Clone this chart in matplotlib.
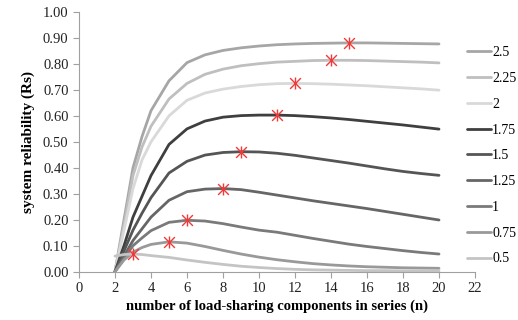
import numpy as np
import matplotlib
matplotlib.use('Agg')
import matplotlib.pyplot as plt

# number of components in series (n)
n = [2, 2.5, 3, 3.5, 4, 5, 6, 7, 8, 9, 10, 11, 12, 13, 14, 15, 16, 17, 18, 19, 20]

# system reliability for each load level
r_25 = [0.0, 0.20, 0.40, 0.52, 0.62, 0.735, 0.805, 0.835, 0.852, 0.862, 0.869, 0.874,
        0.877, 0.879, 0.880, 0.881, 0.881, 0.880, 0.879, 0.878, 0.877]
r_225 = [0.0, 0.18, 0.37, 0.48, 0.56, 0.665, 0.725, 0.76, 0.78, 0.793, 0.801, 0.807,
         0.810, 0.813, 0.814, 0.814, 0.813, 0.811, 0.809, 0.807, 0.804]
r_2 = [0.0, 0.16, 0.32, 0.43, 0.50, 0.60, 0.66, 0.688, 0.703, 0.713, 0.720, 0.724,
       0.725, 0.724, 0.722, 0.719, 0.716, 0.712, 0.708, 0.704, 0.699]
r_175 = [0.0, 0.10, 0.21, 0.29, 0.37, 0.49, 0.55, 0.58, 0.595, 0.601, 0.603, 0.603,
         0.601, 0.597, 0.592, 0.586, 0.579, 0.572, 0.565, 0.557, 0.549]
r_15 = [0.0, 0.08, 0.16, 0.225, 0.285, 0.38, 0.425, 0.449, 0.459, 0.462, 0.461, 0.456,
        0.448, 0.438, 0.428, 0.418, 0.407, 0.396, 0.386, 0.378, 0.371]
r_125 = [0.0, 0.06, 0.12, 0.165, 0.21, 0.275, 0.308, 0.318, 0.320, 0.316, 0.306, 0.295,
         0.284, 0.273, 0.263, 0.253, 0.243, 0.232, 0.221, 0.210, 0.199]
r_1 = [0.0, 0.05, 0.10, 0.13, 0.158, 0.19, 0.198, 0.195, 0.185, 0.172, 0.160, 0.152,
       0.140, 0.128, 0.117, 0.106, 0.097, 0.089, 0.081, 0.074, 0.068]
r_075 = [0.0, 0.045, 0.075, 0.093, 0.105, 0.115, 0.110, 0.097, 0.082, 0.068, 0.056, 0.046,
         0.038, 0.031, 0.026, 0.022, 0.019, 0.017, 0.015, 0.014, 0.013]
r_05 = [0.06, 0.066, 0.068, 0.066, 0.062, 0.055, 0.045, 0.036, 0.028, 0.021, 0.016, 0.012,
        0.009, 0.007, 0.006, 0.005, 0.004, 0.004, 0.003, 0.003, 0.003]

labels = ['2.5', '2.25', '2', '1.75', '1.5', '1.25', '1', '0.75', '0.5']
series = [r_25, r_225, r_2, r_175, r_15, r_125, r_1, r_075, r_05]
colors = ['#a6a6a6', '#bfbfbf', '#d9d9d9', '#3f3f3f', '#555555', '#666666',
          '#7a7a7a', '#999999', '#c4c4c4']

# optimum points (maximum reliability)
star_n = [15, 14, 12, 11, 9, 8, 6, 5, 3]
star_r = [0.881, 0.814, 0.725, 0.603, 0.462, 0.320, 0.198, 0.115, 0.068]

plt.rcParams['font.family'] = ['Liberation Serif', 'DejaVu Serif']

fig = plt.figure(figsize=(5.18, 3.2), dpi=100)
ax = fig.add_axes([0.1525, 0.151, 0.7645, 0.8115])

for s, lab, c in zip(series, labels, colors):
    ax.plot(n, s, color=c, lw=2.0, label=lab, solid_capstyle='round')

# red star markers
ax.scatter(star_n, star_r, marker='x', s=60, color='#f03a3a', linewidths=1.0, zorder=5)
ax.scatter(star_n, star_r, marker='|', s=75, color='#f03a3a', linewidths=1.0, zorder=5)

ax.set_xlim(0, 22)
ax.set_ylim(0, 1.0)
ax.set_xticks(np.arange(0, 23, 2))
ax.set_yticks(np.arange(0, 1.01, 0.1))
ax.set_yticklabels(['%.2f' % v for v in np.arange(0, 1.01, 0.1)])

for side in ['top', 'right']:
    ax.spines[side].set_visible(False)
for side in ['left', 'bottom']:
    ax.spines[side].set_color('#a0a0a0')
    ax.spines[side].set_linewidth(0.8)
ax.tick_params(axis='both', colors='#a0a0a0', labelcolor='#222222', labelsize=10.5,
               length=4, width=0.8, direction='out')

ax.set_xlabel('number of load-sharing components in series (n)', fontsize=10.5,
              fontweight='bold', labelpad=3)
ax.set_ylabel('system reliability (Rs)', fontsize=11, fontweight='bold', labelpad=6)

fig.legend(loc='upper left', bbox_to_anchor=(0.891, 0.873), frameon=False,
           fontsize=10, handlelength=1.7, handletextpad=0.1, labelspacing=0.92,
           borderaxespad=0)

plt.savefig('out.png', dpi=100)
